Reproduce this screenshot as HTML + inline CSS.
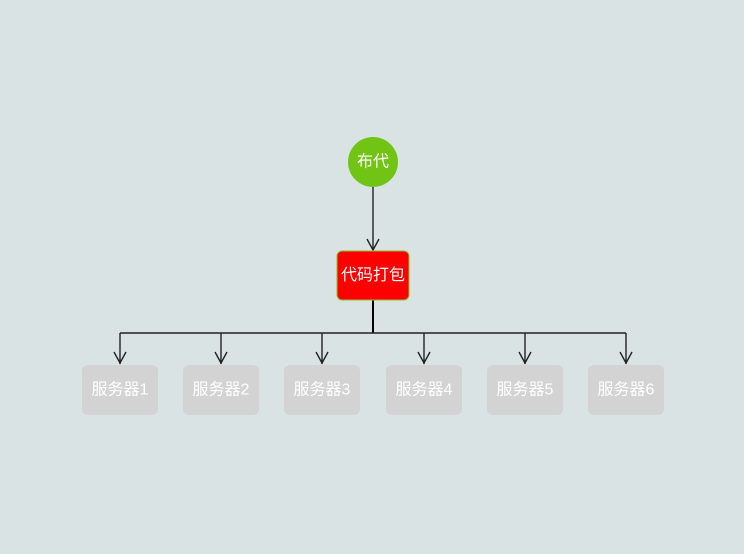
<!DOCTYPE html>
<html><head><meta charset="utf-8"><style>
html,body{margin:0;padding:0;background:#d9e3e4;}
svg{display:block;}
text{font-family:"Liberation Sans","Noto Sans CJK SC",sans-serif;fill:#fff;text-anchor:middle;dominant-baseline:central;}
</style></head><body>
<svg width="744" height="554" xmlns="http://www.w3.org/2000/svg">
<rect width="744" height="554" fill="#d9e3e4"/>
<g stroke="#222" stroke-width="1.4" fill="none">
<line x1="373" y1="187" x2="373" y2="250"/>
<polyline points="367,239 373,250 379,239"/>
<line x1="373" y1="300" x2="373" y2="333" stroke="#000" stroke-width="2"/>
<line x1="120" y1="333" x2="626" y2="333"/>
<line x1="120" y1="333" x2="120" y2="364"/><polyline points="114,352 120,363 126,352"/>
<line x1="221" y1="333" x2="221" y2="364"/><polyline points="215,352 221,363 227,352"/>
<line x1="322" y1="333" x2="322" y2="364"/><polyline points="316,352 322,363 328,352"/>
<line x1="424" y1="333" x2="424" y2="364"/><polyline points="418,352 424,363 430,352"/>
<line x1="525" y1="333" x2="525" y2="364"/><polyline points="519,352 525,363 531,352"/>
<line x1="626" y1="333" x2="626" y2="364"/><polyline points="620,352 626,363 632,352"/>
</g>
<circle cx="373" cy="162" r="25" fill="#72c414"/>
<text x="373" y="162" font-size="16">布代</text>
<rect x="337" y="251" width="72" height="49" rx="5" fill="#ff0000" stroke="#8dc21f" stroke-width="1"/>
<text x="373" y="275.5" font-size="16">代码打包</text>
<g fill="#d3d3d3">
<rect x="82" y="365" width="76" height="50" rx="6"/>
<rect x="183" y="365" width="76" height="50" rx="6"/>
<rect x="284" y="365" width="76" height="50" rx="6"/>
<rect x="386" y="365" width="76" height="50" rx="6"/>
<rect x="487" y="365" width="76" height="50" rx="6"/>
<rect x="588" y="365" width="76" height="50" rx="6"/>
</g>
<g font-size="16">
<text x="120" y="390">服务器1</text>
<text x="221" y="390">服务器2</text>
<text x="322" y="390">服务器3</text>
<text x="424" y="390">服务器4</text>
<text x="525" y="390">服务器5</text>
<text x="626" y="390">服务器6</text>
</g>
</svg>
</body></html>
